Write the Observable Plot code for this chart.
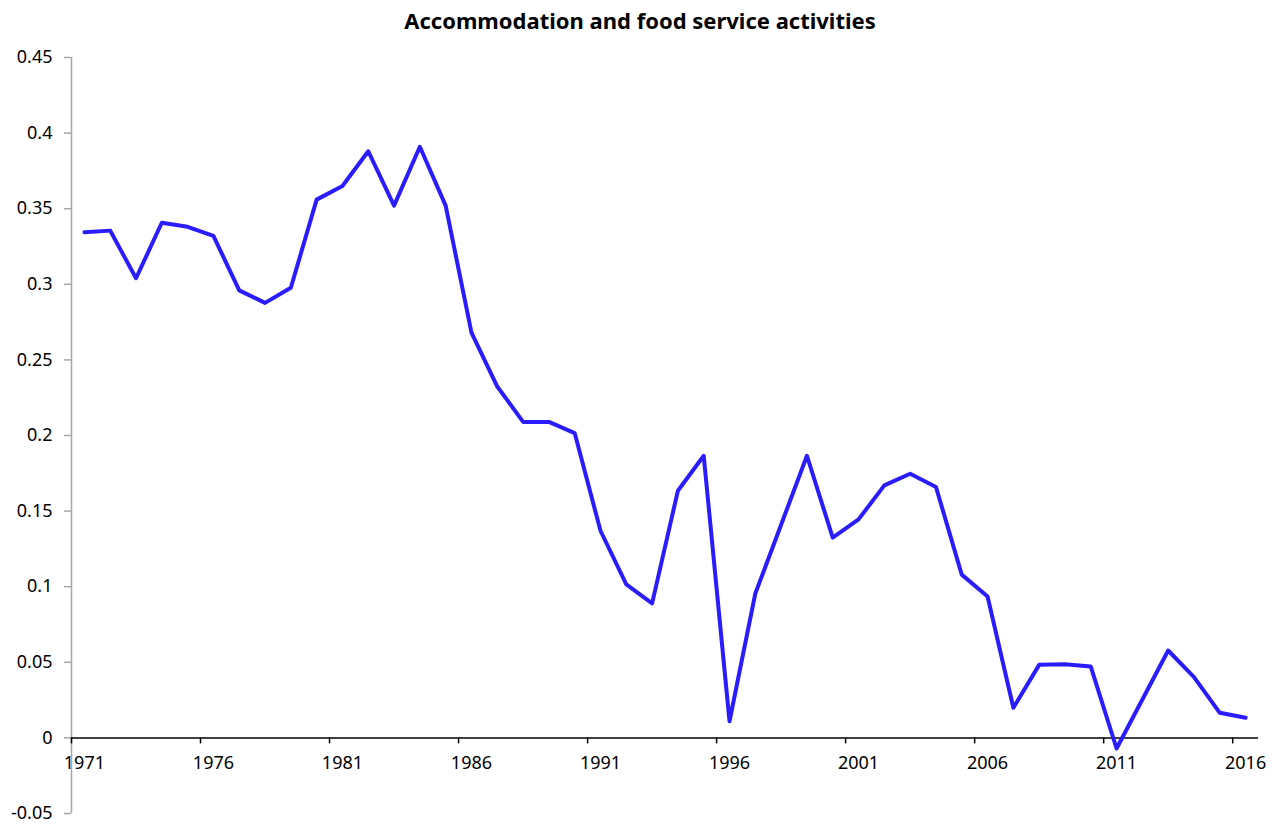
<!DOCTYPE html>
<html>
<head>
<meta charset="utf-8">
<script src="https://cdn.jsdelivr.net/npm/d3@7"></script>
<script src="https://cdn.jsdelivr.net/npm/@observablehq/plot@0.6"></script>
<style>
  body { margin: 0; background: #fff; font-family: "Noto Sans", sans-serif; }
  #title { height: 40px; line-height: 40px; text-align: center; font-weight: bold; font-size: 22px; color: #000; }
  #chart { height: 785px; }
  svg { display: block; }
</style>
</head>
<body>
<div id="title">Accommodation and food service activities</div>
<div id="chart"></div>
<script>
const years = [1971,1972,1973,1974,1975,1976,1977,1978,1979,1980,1981,1982,1983,1984,1985,1986,1987,1988,1989,1990,1991,1992,1993,1994,1995,1996,1997,1998,1999,2000,2001,2002,2003,2004,2005,2006,2007,2008,2009,2010,2011,2012,2013,2014,2015,2016];
const values = [0.3345,0.3355,0.304,0.3407,0.338,0.332,0.296,0.2877,0.2977,0.356,0.365,0.388,0.352,0.391,0.352,0.268,0.2324,0.209,0.209,0.2016,0.137,0.1015,0.089,0.1635,0.1866,0.011,0.0955,0.141,0.1866,0.1325,0.1445,0.167,0.1747,0.166,0.108,0.0935,0.0199,0.0483,0.0487,0.0472,-0.007,0.0254,0.0578,0.0402,0.0166,0.0133];
const tickYears = [1971,1976,1981,1986,1991,1996,2001,2006,2011,2016];
const yTicks = [-0.05,0,0.05,0.1,0.15,0.2,0.25,0.3,0.35,0.4,0.45];

const data = years.map((year, i) => ({year, value: values[i]}));

const chart = Plot.plot({
  width: 1280,
  height: 785,
  marginTop: 17,
  marginBottom: 12,
  marginLeft: 71,
  marginRight: 22,
  style: { fontFamily: '"Noto Sans", sans-serif', fontSize: "18px", color: "#000", background: "#fff" },
  x: { domain: [1970.5, 2016.5], axis: null },
  y: { domain: [-0.05, 0.45], axis: null },
  marks: [
    Plot.ruleX([1970.5], { stroke: "#a6a6a6", strokeWidth: 1.5 }),
    Plot.axisY({ ticks: yTicks, tickSize: 7, tickPadding: 12, stroke: "#a6a6a6", strokeWidth: 1.5, fill: "#000",
                 label: null, tickFormat: d => String(+d.toFixed(2)) }),
    Plot.ruleY([0], { x1: 1970.5, x2: 2016.5, stroke: "#000", strokeWidth: 1.5 }),
    Plot.ruleX(tickYears, { x: d => d - 0.5, y1: 0, y2: 0, insetBottom: -6, stroke: "#000", strokeWidth: 1.5 }),
    Plot.text(tickYears, { x: d => d, y: 0, dy: 25, text: d => String(d), fill: "#000" }),
    Plot.line(data, { x: "year", y: "value", stroke: "#2a1cff", strokeWidth: 4 })
  ]
});
document.getElementById("chart").appendChild(chart);
</script>
</body>
</html>
